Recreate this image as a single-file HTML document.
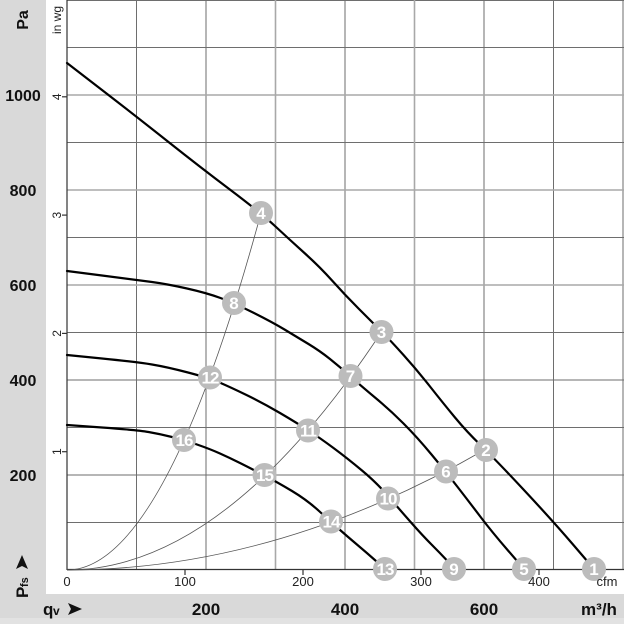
<!DOCTYPE html>
<html><head><meta charset="utf-8"><style>
html,body{margin:0;padding:0;background:#d9d9d9;}
svg{display:block;}
text{font-family:"Liberation Sans",Arial,sans-serif;}
</style></head><body>
<svg width="624" height="624" viewBox="0 0 624 624" xmlns="http://www.w3.org/2000/svg">
<rect x="0" y="0" width="624" height="624" fill="#d9d9d9"/>
<rect x="0" y="618" width="624" height="6" fill="#e2e2e2"/>
<rect x="46" y="0" width="578" height="594" fill="#ffffff"/>
<!-- grid -->
<g stroke="#6e6e6e" stroke-width="1" fill="none">
<line x1="136.5" y1="0" x2="136.5" y2="570"/>
<line x1="206" y1="0" x2="206" y2="570"/>
<line x1="345" y1="0" x2="345" y2="570"/>
<line x1="484" y1="0" x2="484" y2="570"/>
<line x1="553.5" y1="0" x2="553.5" y2="570"/>
<line x1="623" y1="0" x2="623" y2="570"/>
<line x1="67" y1="522.5" x2="624" y2="522.5"/>
<line x1="67" y1="475" x2="624" y2="475"/>
<line x1="67" y1="427.5" x2="624" y2="427.5"/>
<line x1="67" y1="380" x2="624" y2="380"/>
<line x1="67" y1="332.5" x2="624" y2="332.5"/>
<line x1="67" y1="237.5" x2="624" y2="237.5"/>
<line x1="67" y1="142.5" x2="624" y2="142.5"/>
<line x1="67" y1="47.5" x2="624" y2="47.5"/>
<line x1="67" y1="0.5" x2="624" y2="0.5"/>
</g>
<g stroke="#a8a8a8" stroke-width="1.6" fill="none">
<line x1="275.5" y1="0" x2="275.5" y2="570"/>
<line x1="414.5" y1="0" x2="414.5" y2="570"/>
<line x1="67" y1="285" x2="624" y2="285"/>
<line x1="67" y1="190" x2="624" y2="190"/>
<line x1="67" y1="95" x2="624" y2="95"/>
</g>
<!-- axes -->
<g stroke="#333" stroke-width="1.2">
<line x1="67" y1="0" x2="67" y2="570"/>
<line x1="67" y1="569.5" x2="624" y2="569.5"/>
<line x1="62" y1="451.7" x2="67" y2="451.7"/>
<line x1="62" y1="333.4" x2="67" y2="333.4"/>
<line x1="62" y1="215.1" x2="67" y2="215.1"/>
<line x1="62" y1="96.8" x2="67" y2="96.8"/>
<line x1="185" y1="570" x2="185" y2="575"/>
<line x1="303" y1="570" x2="303" y2="575"/>
<line x1="421" y1="570" x2="421" y2="575"/>
<line x1="539" y1="570" x2="539" y2="575"/>
</g>
<!-- system curves -->
<g stroke="#555" stroke-width="0.8" fill="none">
<path d="M67,570 Q164,570 261,213"/>
<path d="M67,570 Q224.25,570 381.5,332"/>
<path d="M67,570 Q276.5,570 486,449"/>
</g>
<!-- fan curves -->
<g stroke="#000" stroke-width="2.2" fill="none" stroke-linejoin="round" stroke-linecap="round">
<path d="M67,63 L102,90 Q137,117 168.5,142 Q200,167 230.5,190 Q261,213 275.5,226.5 Q290,240 305,253.5 Q320,267 332.5,281 Q345,295 358.5,308.5 Q372,322 381,331 Q390,340 403.5,355 Q417,370 430,386.5 Q443,403 455,417.5 Q467,432 480.5,445 Q494,458 523,489 Q552,520 573,544.5 L594,569"/>
<path d="M67,271 L102,275.5 Q137,280 152,282 Q167,284 187,288.5 Q207,293 220.5,298 Q234,303 253,312.5 Q272,322 284.5,329.5 Q297,337 308.5,344 Q320,351 330,359 Q340,367 350,376 Q360,385 375,397.5 Q390,410 403.5,423.5 Q417,437 431.5,454.5 Q446,472 458,487.5 Q470,503 481,517.5 Q492,532 508,550.5 L524,569"/>
<path d="M67,355 L102,358.5 Q137,362 152,364.5 Q167,367 188,372.5 Q209,378 219.5,382.5 Q230,387 246.5,395 Q263,403 280,413 Q297,423 308.5,430.5 Q320,438 333.5,448 Q347,458 362,470.5 Q377,483 388.5,496.5 Q400,510 411.5,523 Q423,536 431.5,544.5 Q440,553 447.5,561 L455,569"/>
<path d="M67,425 L102,427.5 Q137,430 148.5,432 Q160,434 172,437 Q184,440 197,444.5 Q210,449 220,453.5 Q230,458 240,463 Q250,468 263.5,475 Q277,482 292,491 Q307,500 319,511 Q331,522 339.5,529.5 Q348,537 357.5,545 Q367,553 376,561 L385,569"/>
</g>
<!-- markers -->
<g fill="#bcbcbc">
<circle cx="594" cy="569" r="12"/>
<circle cx="486" cy="450" r="12"/>
<circle cx="381.5" cy="332" r="12"/>
<circle cx="261" cy="213" r="12"/>
<circle cx="524" cy="569" r="12"/>
<circle cx="446" cy="471.5" r="12"/>
<circle cx="350.5" cy="376" r="12"/>
<circle cx="234" cy="303" r="12"/>
<circle cx="454" cy="569" r="12"/>
<circle cx="388" cy="498.5" r="12"/>
<circle cx="308" cy="430.5" r="12"/>
<circle cx="210" cy="377.5" r="12"/>
<circle cx="385" cy="569" r="12"/>
<circle cx="331" cy="521.5" r="12"/>
<circle cx="264.5" cy="475" r="12"/>
<circle cx="184" cy="440" r="12"/>
</g>
<g fill="#fff" font-weight="bold" font-size="17" text-anchor="middle">
<text x="594" y="575">1</text>
<text x="486" y="456">2</text>
<text x="381.5" y="338">3</text>
<text x="261" y="219">4</text>
<text x="524" y="575">5</text>
<text x="446" y="477.5">6</text>
<text x="350.5" y="382">7</text>
<text x="234" y="309">8</text>
<text x="454" y="575">9</text>
<text x="388" y="504.5" letter-spacing="-1">10</text>
<text x="308" y="436.5" letter-spacing="-1">11</text>
<text x="210" y="383.5" letter-spacing="-1">12</text>
<text x="385" y="575" letter-spacing="-1">13</text>
<text x="331" y="527.5" letter-spacing="-1">14</text>
<text x="264.5" y="481" letter-spacing="-1">15</text>
<text x="184" y="446" letter-spacing="-1">16</text>
</g>
<!-- left Pa labels -->
<g font-weight="bold" font-size="16" fill="#111" text-anchor="middle">
<text x="23" y="101">1000</text>
<text x="23" y="196">800</text>
<text x="23" y="291">600</text>
<text x="23" y="386">400</text>
<text x="23" y="481">200</text>
<text transform="translate(28,20) rotate(-90)">Pa</text>
</g>
<!-- Pfs -->
<g transform="translate(28,598) rotate(-90)" fill="#111">
<text x="0" y="0" font-weight="bold" font-size="17">P</text>
<text x="11" y="0" font-weight="bold" font-size="11">fs</text>
<polygon points="29,-12 43,-6 29,0 32,-6"/>
</g>
<!-- in wg -->
<g font-size="12" fill="#222" text-anchor="middle">
<text transform="translate(61,20) rotate(-90)">in wg</text>
<text transform="translate(61,451.7) rotate(-90)">1</text>
<text transform="translate(61,333.4) rotate(-90)">2</text>
<text transform="translate(61,215.1) rotate(-90)">3</text>
<text transform="translate(61,96.8) rotate(-90)">4</text>
</g>
<!-- cfm labels -->
<g font-size="13" fill="#222" text-anchor="middle">
<text x="67" y="586">0</text>
<text x="185" y="586">100</text>
<text x="303" y="586">200</text>
<text x="421" y="586">300</text>
<text x="539" y="586">400</text>
<text x="607" y="586">cfm</text>
</g>
<!-- bottom band -->
<g font-weight="bold" font-size="17" fill="#111">
<text x="206" y="615" text-anchor="middle">200</text>
<text x="345" y="615" text-anchor="middle">400</text>
<text x="484" y="615" text-anchor="middle">600</text>
<text x="599" y="615" text-anchor="middle">m³/h</text>
<text x="43" y="615">q</text>
<text x="53" y="615" font-size="12">v</text>
<polygon points="68,603 82,609 68,615 71,609"/>
</g>
</svg>
</body></html>
